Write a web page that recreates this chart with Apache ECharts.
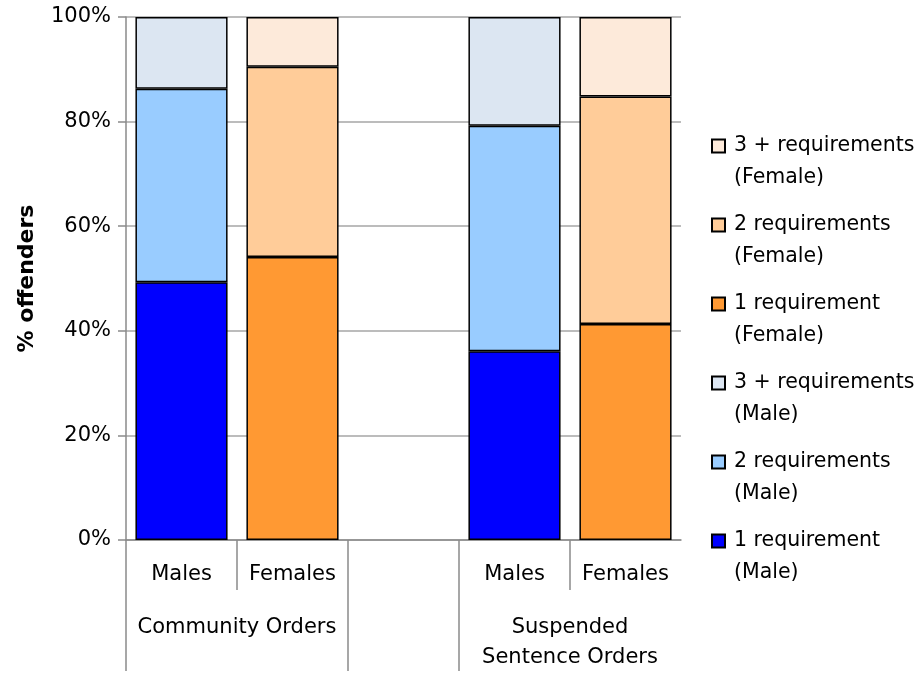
<!DOCTYPE html>
<html>
<head>
<meta charset="utf-8">
<script src="https://cdn.jsdelivr.net/npm/echarts@6/dist/echarts.min.js"></script>
<style>
html,body{margin:0;padding:0;background:#fff;}
#c{width:916px;height:673px;}
</style>
</head>
<body>
<div id="c"></div>
<script>
// categories (5 slots: two groups with a spacer)
const categories = ['Males', 'Females', '', 'Males', 'Females'];
const groupLabels = ['Community Orders', 'Suspended\nSentence Orders'];
const yTicks = [0, 20, 40, 60, 80, 100];

// values per group [Community Orders, Suspended Sentence Orders] (% offenders)
const maleOne   = [49.3, 36.1];
const maleTwo   = [37.0, 43.1];
const maleThree = [13.7, 20.8];
const femaleOne   = [54.1, 41.3];
const femaleTwo   = [36.4, 43.5];
const femaleThree = [9.5, 15.2];

const seriesNames = [
  '1 requirement\n(Male)', '2 requirements\n(Male)', '3 + requirements\n(Male)',
  '1 requirement\n(Female)', '2 requirements\n(Female)', '3 + requirements\n(Female)'
];
const colors = ['#0000FF', '#99CCFF', '#DCE6F2', '#FF9933', '#FFCC99', '#FDEADA'];

const maleIdx = [0, 3];
const femaleIdx = [1, 4];
function place(vals, idx) {
  const d = categories.map(() => '-');
  idx.forEach((k, i) => { d[k] = vals[i]; });
  return d;
}
const seriesData = [
  place(maleOne, maleIdx), place(maleTwo, maleIdx), place(maleThree, maleIdx),
  place(femaleOne, femaleIdx), place(femaleTwo, femaleIdx), place(femaleThree, femaleIdx)
];

const FONT = 'DejaVu Sans';
const AXIS = '#8a8a8a';

const chart = echarts.init(document.getElementById('c'), null, {renderer: 'canvas'});
chart.setOption({
  animation: false,
  backgroundColor: '#fff',
  textStyle: {fontFamily: FONT},
  grid: {left: 126, right: 235, top: 17, bottom: 131, containLabel: false},
  legend: {
    orient: 'vertical',
    left: 711,
    top: 98,
    padding: 0,
    icon: 'rect',
    itemWidth: 13,
    itemHeight: 13,
    itemGap: -17,
    data: seriesNames.slice().reverse(),
    formatter: function (n) { return ' \n' + n; },
    textStyle: {fontFamily: FONT, fontSize: 20.5, color: '#000', lineHeight: 32, padding: [0, 0, 0, 4]}
  },
  xAxis: [
    {
      type: 'category',
      data: categories,
      position: 'bottom',
      axisLine: {show: true, lineStyle: {color: AXIS, width: 1.5}},
      axisTick: {show: false},
      axisLabel: {interval: 0, hideOverlap: false, fontFamily: FONT, fontSize: 21, color: '#000', margin: 24}
    },
    {
      type: 'value',
      min: 0, max: 5, interval: 1,
      position: 'bottom',
      axisLine: {show: false},
      splitLine: {show: false},
      axisTick: {show: true, length: 131, customValues: [0, 2, 3], lineStyle: {color: AXIS, width: 1.5}},
      axisLabel: {
        show: true, customValues: [1, 4], margin: 73, hideOverlap: false,
        fontFamily: FONT, fontSize: 21, color: '#000', lineHeight: 30,
        formatter: function (v) { return v === 1 ? groupLabels[0] : (v === 4 ? groupLabels[1] : ''); }
      }
    },
    {
      type: 'value',
      min: 0, max: 5, interval: 1,
      position: 'bottom',
      axisLine: {show: false},
      splitLine: {show: false},
      axisTick: {show: true, length: 50, customValues: [1, 4], lineStyle: {color: AXIS, width: 1.5}},
      axisLabel: {show: false}
    }
  ],
  yAxis: {
    type: 'value',
    min: 0, max: 100, interval: 20,
    name: '% offenders',
    nameLocation: 'middle',
    nameGap: 88,
    nameTextStyle: {fontFamily: FONT, fontSize: 22, fontWeight: 'bold', color: '#000'},
    axisLine: {show: true, lineStyle: {color: AXIS, width: 1.5}},
    axisTick: {show: true, length: 8, lineStyle: {color: AXIS, width: 1.5}},
    splitLine: {show: true, lineStyle: {color: '#a6a6a6', width: 1.5}},
    axisLabel: {fontFamily: FONT, fontSize: 21, color: '#000', margin: 15,
      formatter: function (v) { return yTicks.indexOf(v) >= 0 ? v + '%' : ''; }}
  },
  series: seriesNames.map((name, i) => ({
    name: name,
    type: 'bar',
    stack: 'total',
    xAxisIndex: 0,
    barWidth: '83%',
    data: seriesData[i],
    itemStyle: {color: colors[i], borderColor: '#000', borderWidth: 1.5},
    emphasis: {disabled: true}
  }))
});
</script>
</body>
</html>
